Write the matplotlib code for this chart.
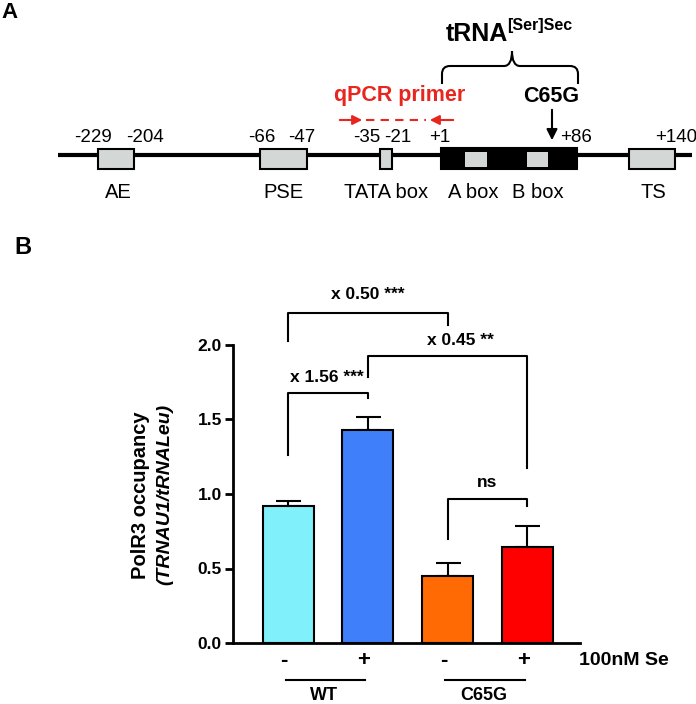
import numpy as np
import matplotlib
matplotlib.use("Agg")
import matplotlib.pyplot as plt
from matplotlib.patches import Rectangle, PathPatch
from matplotlib.path import Path

plt.rcParams['font.family'] = ['Liberation Sans', 'DejaVu Sans']

# Panel B data
se_labels = ["-", "+", "-", "+"]
groups = ["WT", "C65G"]
occupancy = [0.92, 1.43, 0.45, 0.645]
sem = [0.035, 0.09, 0.09, 0.14]
bar_colors = ["#80f0fb", "#3f80fa", "#ff6a05", "#fe0000"]

# comparisons: (bar a, bar b, label)
comparisons = [(0, 1, "x 1.56 ***"), (0, 2, "x 0.50 ***"),
               (1, 3, "x 0.45 **"), (2, 3, "ns")]

# Panel A schematic (pixel layout, not to scale)
box_names = ["AE", "PSE", "TATA box", "TS"]
box_spans = [(98, 134), (260, 307), (380, 392), (629, 675)]
name_x = [118, 283, 386, 653]
pos_labels = ["-229", "-204", "-66", "-47", "-35", "-21", "+1", "+86", "+140"]
pos_x = [93, 145, 262, 302, 367, 398, 440, 576, 676]
gene_span = (441, 577)
inner_boxes = [(465, 487), (527, 548)]
inner_names = ["A box", "B box"]
inner_x = [473, 538]

red = "#e8251f"
gray = "#d3d8d7"

fig = plt.figure(figsize=(6.96, 7.04), dpi=100)

# overlay in pixel coordinates for panel A and labels
ov = fig.add_axes([0, 0, 1, 1])
ov.set_xlim(0, 696)
ov.set_ylim(704, 0)
ov.axis("off")

ov.text(10, 13, "A", fontsize=16, fontweight="bold", ha="center", va="center")
ov.text(23, 247, "B", fontsize=17, fontweight="bold", ha="center", va="center")

# DNA line
ov.plot([58, 692], [155, 155], color="black", lw=3, solid_capstyle="butt", zorder=1)
for (a, b) in box_spans:
    ov.add_patch(Rectangle((a, 149), b - a, 20, facecolor=gray, edgecolor="black",
                           lw=1.5, zorder=2))
ov.add_patch(Rectangle((gene_span[0], 148), gene_span[1] - gene_span[0], 21,
                       facecolor="black", edgecolor="black", lw=1.5, zorder=2))
for (a, b) in inner_boxes:
    ov.add_patch(Rectangle((a, 152), b - a, 15, facecolor=gray, edgecolor="none", zorder=3))

for lab, x in zip(pos_labels, pos_x):
    ov.text(x, 137, lab, fontsize=13.5, ha="center", va="center")
for lab, x in zip(box_names + inner_names, name_x + inner_x):
    ov.text(x, 193, lab, fontsize=14.5, ha="center", va="center")

# brace over the gene
l, r, m = 442, 578, 512
verts = [(l, 84), (l, 74), (l, 66), (l + 8, 66), (m - 8, 66), (m, 66), (m, 51),
         (m, 66), (m + 8, 66), (r - 8, 66), (r, 66), (r, 74), (r, 84)]
codes = [Path.MOVETO, Path.LINETO, Path.CURVE3, Path.CURVE3, Path.LINETO,
         Path.CURVE3, Path.CURVE3, Path.CURVE3, Path.CURVE3, Path.LINETO,
         Path.CURVE3, Path.CURVE3, Path.LINETO]
ov.add_patch(PathPatch(Path(verts, codes), facecolor="none", edgecolor="black", lw=1.5))
ov.text(446, 41, "tRNA", fontsize=18, fontweight="bold", ha="left", va="baseline")
ov.text(507, 30, "[Ser]Sec", fontsize=11.5, fontweight="bold", ha="left", va="baseline")

# C65G arrow
ov.text(551, 96, "C65G", fontsize=15.5, fontweight="bold", ha="center", va="center")
ov.annotate("", xy=(552, 143), xytext=(552, 107),
            arrowprops=dict(arrowstyle="-|>", color="black", lw=1.5, mutation_scale=16))

# qPCR primer
ov.text(400, 96, "qPCR primer", fontsize=15.5, fontweight="bold", color=red,
        ha="center", va="center")
ov.annotate("", xy=(365, 120), xytext=(337, 120),
            arrowprops=dict(arrowstyle="-|>", color=red, lw=1.5, mutation_scale=14))
ov.annotate("", xy=(427, 120), xytext=(456, 120),
            arrowprops=dict(arrowstyle="-|>", color=red, lw=1.5, mutation_scale=14))
ov.plot([366, 426], [120, 120], color=red, lw=1.5, ls=(0, (4, 3)))

# y label
ov.text(140, 495, "PolR3 occupancy", fontsize=14.5, fontweight="bold",
        rotation=90, ha="center", va="center")
ov.text(165, 494, "(TRNAU1/tRNALeu)", fontsize=14, fontweight="bold", style="italic",
        rotation=90, ha="center", va="center")

# Panel B bar chart
ax = fig.add_axes([233 / 696, 61 / 704, 347 / 696, 2.4 * 149 / 704])
ax.patch.set_alpha(0)
x = np.arange(len(occupancy))
ax.bar(x, occupancy, width=0.64, color=bar_colors, edgecolor="black", lw=1.5, zorder=3)
ax.errorbar(x, occupancy, yerr=[np.zeros(len(sem)), sem], fmt="none", ecolor="black",
            elinewidth=1.5, capsize=9, capthick=1.5, zorder=2)
ax.set_xlim(-0.69, 3.66)
ax.set_ylim(0, 2.4)
ax.set_yticks([0, 0.5, 1.0, 1.5, 2.0])
ax.set_yticklabels(["0.0", "0.5", "1.0", "1.5", "2.0"])
for s in ["top", "right"]:
    ax.spines[s].set_visible(False)
ax.spines["left"].set_bounds(0, 2.0)
ax.spines["left"].set_linewidth(2)
ax.spines["bottom"].set_linewidth(2)
ax.set_xticks([])
ax.tick_params(axis="y", width=2, length=6, pad=2, labelsize=12.5)
for t in ax.get_yticklabels():
    t.set_fontweight("bold")

# significance brackets: (top, left leg bottom, right leg bottom, text y, text x)
bracket_geom = [(1.678, 1.26, 1.644, 1.785, 0.49),
                (2.215, 2.03, 2.134, 2.336, 1.0),
                (1.926, 1.785, 1.174, 2.03, 2.16),
                (0.966, 0.70, 0.919, 1.08, 2.49)]
for (a, b, lab), (top, yl, yr, ty, tx) in zip(comparisons, bracket_geom):
    ax.plot([a, a, b, b], [yl, top, top, yr], color="black", lw=1.5, clip_on=False)
    ax.text(tx, ty, lab, fontsize=12.5, fontweight="bold", ha="center", va="center")

# treatment and group labels below axis
for xi, lab in zip(x, se_labels):
    ax.text(xi - 0.05, -0.115, lab, fontsize=16, fontweight="bold",
            ha="center", va="center", clip_on=False)
ax.text(3.65, -0.115, "100nM Se", fontsize=14, fontweight="bold",
        ha="left", va="center", clip_on=False)
for gi, g in enumerate(groups):
    a, b = 2 * gi, 2 * gi + 1
    ax.plot([a - 0.03, b - 0.03], [-0.25, -0.25], color="black", lw=1.5, clip_on=False)
    ax.text((a + b) / 2 - 0.05, -0.35, g, fontsize=13, fontweight="bold",
            ha="center", va="center", clip_on=False)

fig.savefig("out.png", dpi=100)
